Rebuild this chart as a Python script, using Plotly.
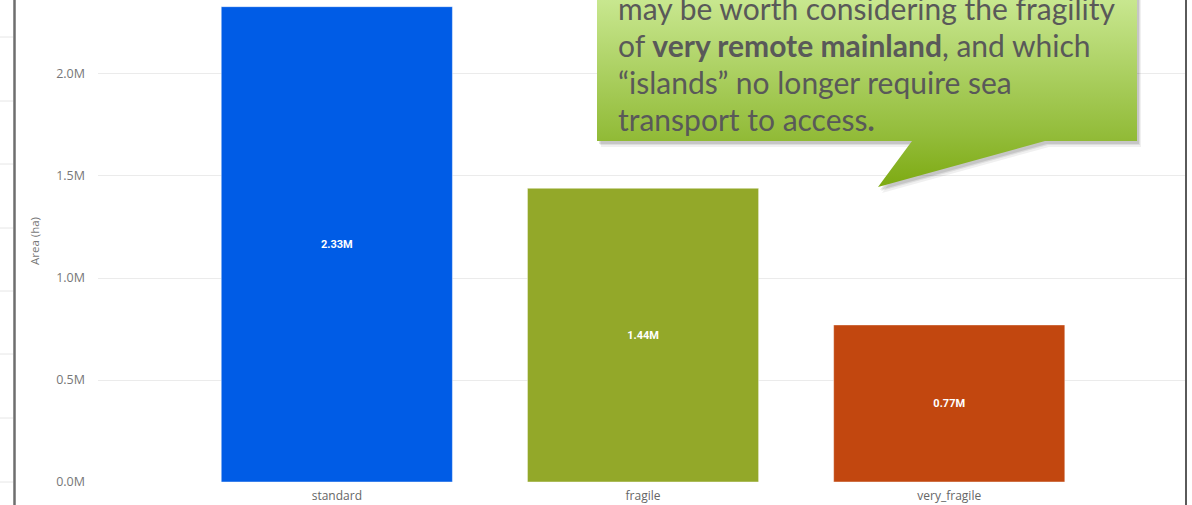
import plotly.graph_objects as go

# ---- data ----
categories = ["standard", "fragile", "very_fragile"]
area_ha = [2.33e6, 1.44e6, 0.77e6]
bar_colors = ["#005CE6", "#93A829", "#C2470F"]
tick_values = [0, 0.5e6, 1.0e6, 1.5e6, 2.0e6]
tick_labels = ["0.0M", "0.5M", "1.0M", "1.5M", "2.0M"]
callout_lines = [
    "may be worth considering the fragility",
    "of <b>very remote mainland</b>, and which",
    "\u201cislands\u201d no longer require sea",
    "transport to access<b>.</b>",
]

# ---- layout geometry (pixels) ----
FW, FH = 1192, 505
L, R, T, B = 98, 1185, 0, 482
PW, PH = R - L, B - T


def paper_x(px):
    return (px - L) / PW


def paper_y(py):
    return (B - py) / PH


fig = go.Figure()

fig.add_trace(go.Bar(
    x=categories,
    y=area_ha,
    marker=dict(color=bar_colors, line=dict(width=1, color="rgba(255,255,255,0.45)")),
    text=[f"{v/1e6:.2f}M" for v in area_ha],
    textposition="inside",
    insidetextanchor="middle",
    textangle=0,
    textfont=dict(family="Roboto", size=11, color="white", weight="bold"),
    hoverinfo="skip",
    showlegend=False,
))

# ---- callout (overlay axes in pixel units) ----
rect_l, rect_r, rect_t, rect_b = 597, 1137, -60, 141
ptr_l, ptr_r, tip_x, tip_y = 912, 1045, 878, 187
cx = [rect_l, rect_r, rect_r, ptr_r, tip_x, ptr_l, rect_l, rect_l]
cy = [rect_t, rect_t, rect_b, rect_b, tip_y, rect_b, rect_b, rect_t]

for dx, dy, a in [(4, 6, 0.06), (3, 4, 0.08), (2, 3, 0.10)]:
    fig.add_trace(go.Scatter(
        x=[v + dx for v in cx], y=[v + dy for v in cy],
        xaxis="x2", yaxis="y2", mode="lines", line=dict(width=0),
        fill="toself", fillcolor=f"rgba(0,0,0,{a})",
        hoverinfo="skip", showlegend=False,
    ))

fig.add_trace(go.Scatter(
    x=cx, y=cy, xaxis="x2", yaxis="y2", mode="lines", line=dict(width=0),
    fill="toself",
    fillgradient=dict(type="vertical", start=0, stop=tip_y,
                      colorscale=[[0, "#C8E78F"], [0.72, "#93BC3A"], [1, "#7DAA12"]]),
    hoverinfo="skip", showlegend=False,
))

line_centers = [8, 45, 82, 119]
for txt, yc in zip(callout_lines, line_centers):
    fig.add_annotation(
        x=paper_x(616), y=paper_y(yc), xref="paper", yref="paper",
        xanchor="left", yanchor="middle", showarrow=False,
        text=txt, font=dict(family="Lato", size=30, color="#595959"),
    )

# ---- frame decorations ----
shapes = []
for gy in [37, 101, 164, 228, 291, 354, 418, 482]:
    shapes.append(dict(type="line", xref="paper", yref="paper",
                       x0=paper_x(0), x1=paper_x(13), y0=paper_y(gy), y1=paper_y(gy),
                       line=dict(color="#E6E6E6", width=1)))
shapes.append(dict(type="line", xref="paper", yref="paper",
                   x0=paper_x(14.5), x1=paper_x(14.5), y0=paper_y(-5), y1=paper_y(510),
                   line=dict(color="#6E6E6E", width=2.5)))
shapes.append(dict(type="line", xref="paper", yref="paper",
                   x0=paper_x(1186), x1=paper_x(1186), y0=paper_y(-5), y1=paper_y(510),
                   line=dict(color="#5A5A5A", width=2)))

fig.update_layout(
    width=FW, height=FH,
    margin=dict(l=L, r=FW - R, t=T, b=FH - B),
    paper_bgcolor="white", plot_bgcolor="white",
    bargap=0.245,
    font=dict(family="Open Sans", color="#777777"),
    shapes=shapes,
    xaxis=dict(
        range=[-0.78, 2.77], showgrid=False, zeroline=False, showline=False,
        tickfont=dict(family="Open Sans", size=12, color="#666666"), ticks="",
        ticklabelstandoff=5,
    ),
    yaxis=dict(
        range=[0, 2.3627e6], tickvals=tick_values, ticktext=tick_labels,
        showgrid=True, gridcolor="#EBEBEB", gridwidth=1, zeroline=False,
        showline=False, ticks="", ticklabelstandoff=12,
        tickfont=dict(family="Open Sans", size=12.5, color="#777777"),
        title=dict(text="Area (ha)", standoff=14,
                   font=dict(family="Open Sans", size=11.5, color="#777777")),
    ),
    xaxis2=dict(overlaying="x", range=[L, R], visible=False, fixedrange=True),
    yaxis2=dict(overlaying="y", range=[B, T], visible=False, fixedrange=True),
)

fig.write_html(
    "out.html",
    config={"displayModeBar": False, "staticPlot": True},
    post_script="document.body.style.margin='0px';document.body.style.overflow='hidden';",
)
